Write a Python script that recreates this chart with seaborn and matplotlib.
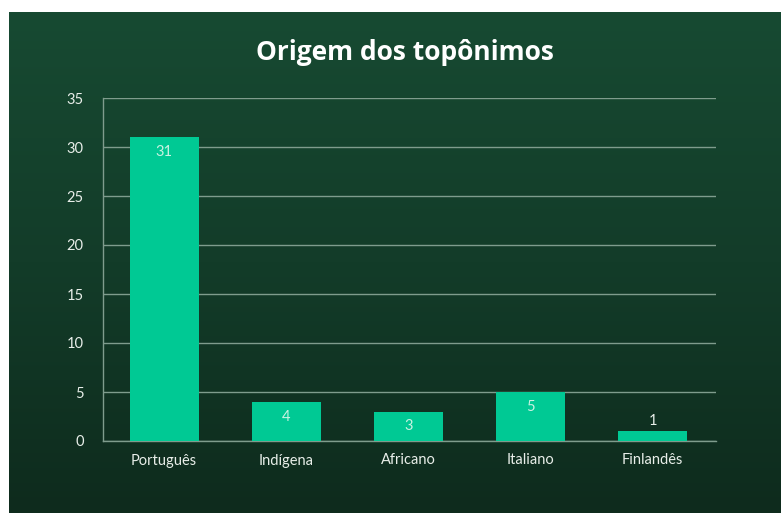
import numpy as np
import pandas as pd
import seaborn as sns
import matplotlib.pyplot as plt
from matplotlib.colors import LinearSegmentedColormap

# data
origens = ['Português', 'Indígena', 'Africano', 'Italiano', 'Finlandês']
contagem = [31, 4, 3, 5, 1]
yticks = [0, 5, 10, 15, 20, 25, 30, 35]

df = pd.DataFrame({'origem': origens, 'n': contagem})

sns.set_style('white')
plt.rcParams['font.family'] = ['Lato', 'DejaVu Sans']

W, H = 783, 513
fig = plt.figure(figsize=(W / 100, H / 100), dpi=100, facecolor='white')

# green gradient panel (white border at top/left like the screenshot)
bg = fig.add_axes([9 / W, 0, 772 / W, 501 / H], zorder=0)
cmap = LinearSegmentedColormap.from_list('bg', ['#174a32', '#133c29', '#0e2b1d'])
grad = np.linspace(0, 1, 256).reshape(-1, 1)
bg.imshow(grad, aspect='auto', cmap=cmap, extent=[0, 1, 0, 1], origin='upper')
bg.set_axis_off()

ax = fig.add_axes([103 / W, 72 / H, 613 / W, 343 / H], zorder=1)
ax.patch.set_alpha(0)

sns.barplot(data=df, x='origem', y='n', color='#00c994', width=0.565,
            saturation=1, linewidth=0, ax=ax, zorder=3)

ax.set_ylim(0, 35)
ax.set_xlim(-0.5, 4.52)
ax.set_yticks(yticks)
ax.yaxis.grid(True, color='#7f9c8d', linewidth=1)
ax.set_axisbelow(True)
for s in ['top', 'right']:
    ax.spines[s].set_visible(False)
ax.spines['left'].set_color('#7f9c8d')
ax.spines['bottom'].set_color('#7f9c8d')
ax.spines['left'].set_linewidth(1)
ax.spines['bottom'].set_linewidth(1)

ax.tick_params(axis='both', length=0, colors='#e8eee9', labelsize=10.5)
ax.tick_params(axis='y', pad=14)
ax.tick_params(axis='x', pad=9)
ax.set_xlabel('')
ax.set_ylabel('')

# value labels: inside end, or above when bar is too short
for i, v in enumerate(contagem):
    if v >= 3:
        ax.text(i, v - 0.8, str(v), ha='center', va='top', fontsize=10.5,
                color='#c9f2e2', zorder=4)
    else:
        ax.text(i, v + 0.3, str(v), ha='center', va='bottom', fontsize=10.5,
                color='#e8eee9', zorder=4)

fig.text(405 / W, 1 - 53 / H, 'Origem dos topônimos', ha='center', va='center',
         fontsize=19, fontweight='bold', color='white',
         family=['Open Sans', 'DejaVu Sans'])

plt.savefig('out.png', dpi=100, facecolor='white')
